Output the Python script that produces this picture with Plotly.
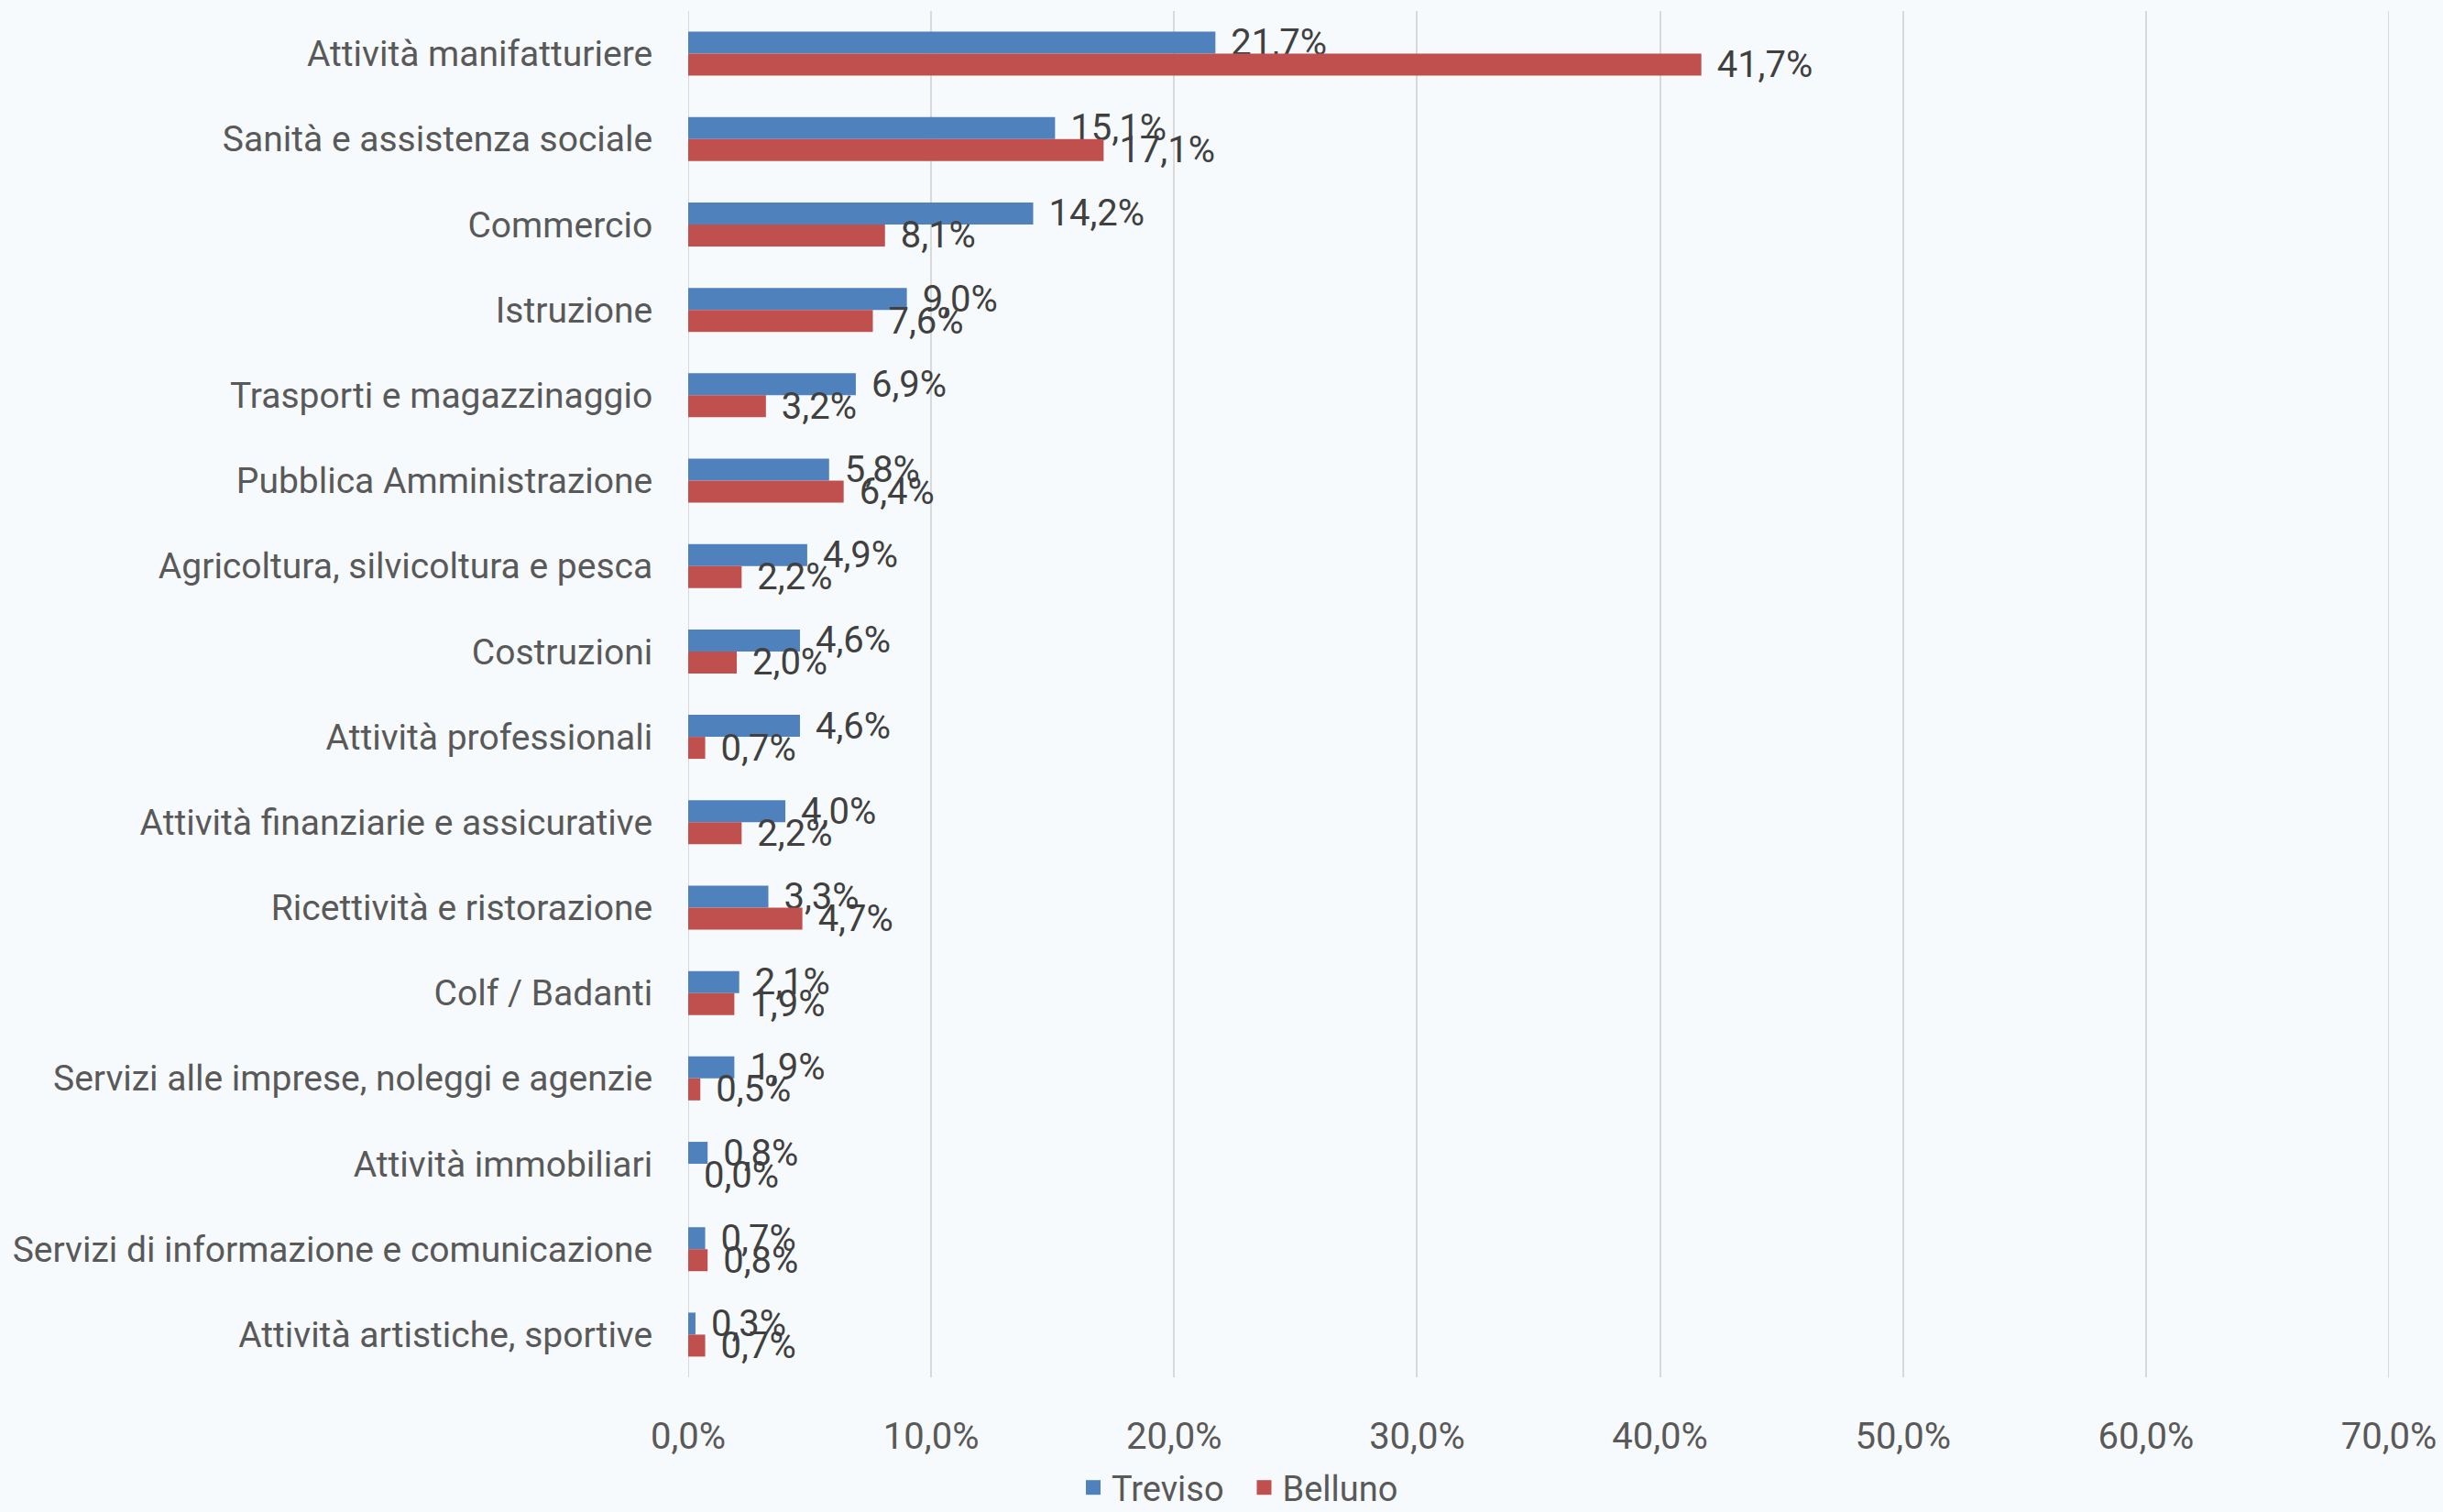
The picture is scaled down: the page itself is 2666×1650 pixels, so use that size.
import plotly.graph_objects as go

categories = [
    "Attività manifatturiere",
    "Sanità e assistenza sociale",
    "Commercio",
    "Istruzione",
    "Trasporti e magazzinaggio",
    "Pubblica Amministrazione",
    "Agricoltura, silvicoltura e pesca",
    "Costruzioni",
    "Attività professionali",
    "Attività finanziarie e assicurative",
    "Ricettività e ristorazione",
    "Colf / Badanti",
    "Servizi alle imprese, noleggi e agenzie",
    "Attività immobiliari",
    "Servizi di informazione e comunicazione",
    "Attività artistiche, sportive",
]
treviso = [21.7, 15.1, 14.2, 9.0, 6.9, 5.8, 4.9, 4.6, 4.6, 4.0, 3.3, 2.1, 1.9, 0.8, 0.7, 0.3]
belluno = [41.7, 17.1, 8.1, 7.6, 3.2, 6.4, 2.2, 2.0, 0.7, 2.2, 4.7, 1.9, 0.5, 0.0, 0.8, 0.7]
series_names = ["Treviso", "Belluno"]
x_ticks = [0, 10, 20, 30, 40, 50, 60, 70]
x_ticktext = [f"{v:.1f}%".replace(".", ",") for v in x_ticks]

FONT = "Roboto, sans-serif"
FS = 40
W, H = 2666, 1650
L, R, T, B = 751, 59, 12, 147
PW, PH = W - L - R, H - T - B

fig = go.Figure()
series = [(series_names[0], treviso, "#4F81BD"), (series_names[1], belluno, "#C0504D")]
for name, vals, col in series:
    fig.add_trace(go.Bar(
        name=name, y=categories, x=vals, orientation="h",
        marker=dict(color=col, line=dict(width=0)),
        texttemplate="\u00a0\u200a%{x:.1f}%", textposition="outside",
        textfont=dict(family=FONT, size=FS, color="#404040"),
        constraintext="none", cliponaxis=False, showlegend=False,
    ))
# legend entries with larger square swatches
for i, (name, vals, col) in enumerate(series):
    fig.add_trace(go.Scatter(
        name=name + ("\u00a0\u00a0" if i == 0 else ""), x=[None], y=[None], mode="markers",
        marker=dict(symbol="square", size=24, color=col), showlegend=True,
    ))

fig.update_layout(
    width=W, height=H,
    margin=dict(l=L, r=R, t=T, b=B, autoexpand=False),
    paper_bgcolor="#F7FAFD", plot_bgcolor="#F7FAFD",
    barmode="group", bargap=0.485, bargroupgap=0,
    separators=",.",
    font=dict(family=FONT, size=FS, color="#595959"),
    showlegend=True,
    legend=dict(orientation="h", x=(1352 - L) / PW, xanchor="center",
                y=(H - B - 1592) / PH, yanchor="top",
                font=dict(family=FONT, size=38, color="#595959"),
                bgcolor="rgba(0,0,0,0)", itemwidth=30, traceorder="normal",
                tracegroupgap=0),
    xaxis=dict(range=[0, 70], tickvals=x_ticks, ticktext=x_ticktext,
               showgrid=True, gridcolor="#D9D9D9", gridwidth=2, zeroline=False,
               showline=False, ticks="outside", ticklen=29, tickcolor="rgba(0,0,0,0)",
               ticklabeloverflow="allow",
               tickfont=dict(family=FONT, size=FS, color="#595959")),
    yaxis=dict(categoryorder="array", categoryarray=categories, autorange="reversed",
               showgrid=False, zeroline=False, showline=False,
               ticks="outside", ticklen=30, tickcolor="rgba(0,0,0,0)",
               tickfont=dict(family=FONT, size=39, color="#595959")),
)
for xv in (x_ticks[0], x_ticks[-1]):
    fig.add_shape(type="line", xref="x", yref="paper", x0=xv, x1=xv, y0=0, y1=1,
                  line=dict(color="#D9D9D9", width=2), layer="below")

fig.write_html("out.html", config={"displayModeBar": False},
               post_script="document.body.style.margin='0';document.body.style.overflow='hidden';")
